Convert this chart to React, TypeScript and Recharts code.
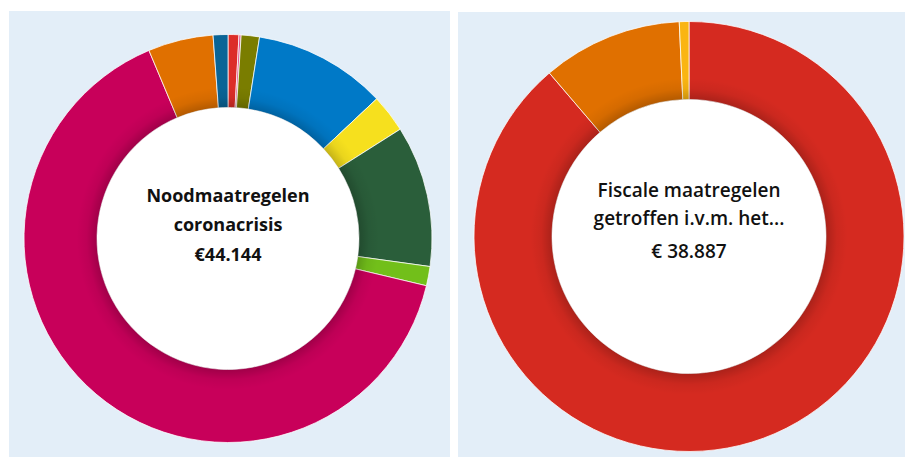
import { PieChart, Pie, Cell } from "recharts";

// links: noodmaatregelen coronacrisis (totaal 44.144)
const leftNames = [
  "Post 1", "Post 2", "Post 3", "Post 4", "Post 5",
  "Post 6", "Post 7", "Post 8", "Post 9", "Post 10",
];
const leftValues = [380, 74, 638, 4647, 1324, 4942, 674, 28668, 2281, 515];
const leftColors = [
  "#dc2d28", "#e04e8a", "#7a7d00", "#0079c7", "#f6e01e",
  "#2a5e3a", "#72bf1a", "#c8005a", "#e07000", "#0a6496",
];

// rechts: fiscale maatregelen (totaal 38.887)
const rightNames = ["Fiscaal 1", "Fiscaal 2", "Fiscaal 3"];
const rightValues = [34512, 4094, 281];
const rightColors = ["#d52a20", "#e07000", "#fab512"];

const leftTitle = ["Noodmaatregelen", "coronacrisis", "€44.144"];
const rightTitle = ["Fiscale maatregelen", "getroffen i.v.m. het...", "€ 38.887"];

const PANEL_BG = "#e3eef8";

type DonutProps = {
  id: string;
  names: string[];
  values: number[];
  colors: string[];
  title: string[];
  width: number;
  height: number;
  cx: number;
  cy: number;
  inner: number;
  outer: number;
  weight: number;
  size: number;
  baselines: number[];
};

const Donut = (p: DonutProps) => {
  const data = p.names.map((name, i) => ({ name, value: p.values[i] }));
  const ratio = p.inner / p.outer;
  return (
    <PieChart
      width={p.width}
      height={p.height}
      margin={{ top: 0, right: 0, bottom: 0, left: 0 }}
    >
      <defs>
        <radialGradient
          id={`shade-${p.id}`}
          gradientUnits="userSpaceOnUse"
          cx={p.cx}
          cy={p.cy}
          r={p.outer}
        >
          <stop offset={ratio} stopColor="#000" stopOpacity={0.2} />
          <stop offset={ratio + 0.05} stopColor="#000" stopOpacity={0.05} />
          <stop offset={ratio + 0.1} stopColor="#000" stopOpacity={0} />
          <stop offset={1} stopColor="#000" stopOpacity={0} />
        </radialGradient>
      </defs>
      <circle cx={p.cx} cy={p.cy} r={p.inner + 1} fill="#ffffff" />
      <Pie
        data={data}
        dataKey="value"
        nameKey="name"
        cx={p.cx}
        cy={p.cy}
        innerRadius={p.inner}
        outerRadius={p.outer}
        startAngle={90}
        endAngle={-270}
        stroke="rgba(255,255,255,0.75)"
        strokeWidth={1}
        isAnimationActive={false}
      >
        {data.map((d, i) => (
          <Cell key={d.name} fill={p.colors[i]} />
        ))}
      </Pie>
      <Pie
        data={data}
        dataKey="value"
        cx={p.cx}
        cy={p.cy}
        innerRadius={p.inner}
        outerRadius={p.outer}
        startAngle={90}
        endAngle={-270}
        stroke="none"
        fill={`url(#shade-${p.id})`}
        isAnimationActive={false}
        legendType="none"
      />
      <text
        textAnchor="middle"
        fontFamily="'Open Sans', sans-serif"
        fontWeight={p.weight}
        fontSize={p.size}
        fill="#111111"
      >
        {p.title.map((l, i) => (
          <tspan key={i} x={p.cx} y={p.baselines[i]}>
            {l}
          </tspan>
        ))}
      </text>
    </PieChart>
  );
};

export default function App() {
  return (
    <div
      style={{
        position: "absolute",
        left: 0,
        top: 0,
        width: 905,
        height: 457,
        background: "#ffffff",
        overflow: "hidden",
      }}
    >
      <div
        style={{
          position: "absolute",
          left: 9,
          top: 11,
          width: 441,
          height: 446,
          background: PANEL_BG,
        }}
      >
        <Donut
          id="left"
          names={leftNames}
          values={leftValues}
          colors={leftColors}
          title={leftTitle}
          width={441}
          height={446}
          cx={219}
          cy={227.5}
          inner={131}
          outer={204}
          weight={700}
          size={18}
          baselines={[191, 220, 250]}
        />
      </div>
      <div
        style={{
          position: "absolute",
          left: 458,
          top: 12,
          width: 447,
          height: 445,
          background: PANEL_BG,
        }}
      >
        <Donut
          id="right"
          names={rightNames}
          values={rightValues}
          colors={rightColors}
          title={rightTitle}
          width={447}
          height={445}
          cx={231}
          cy={224.5}
          inner={137}
          outer={215}
          weight={600}
          size={19}
          baselines={[185, 213, 246]}
        />
      </div>
    </div>
  );
}
